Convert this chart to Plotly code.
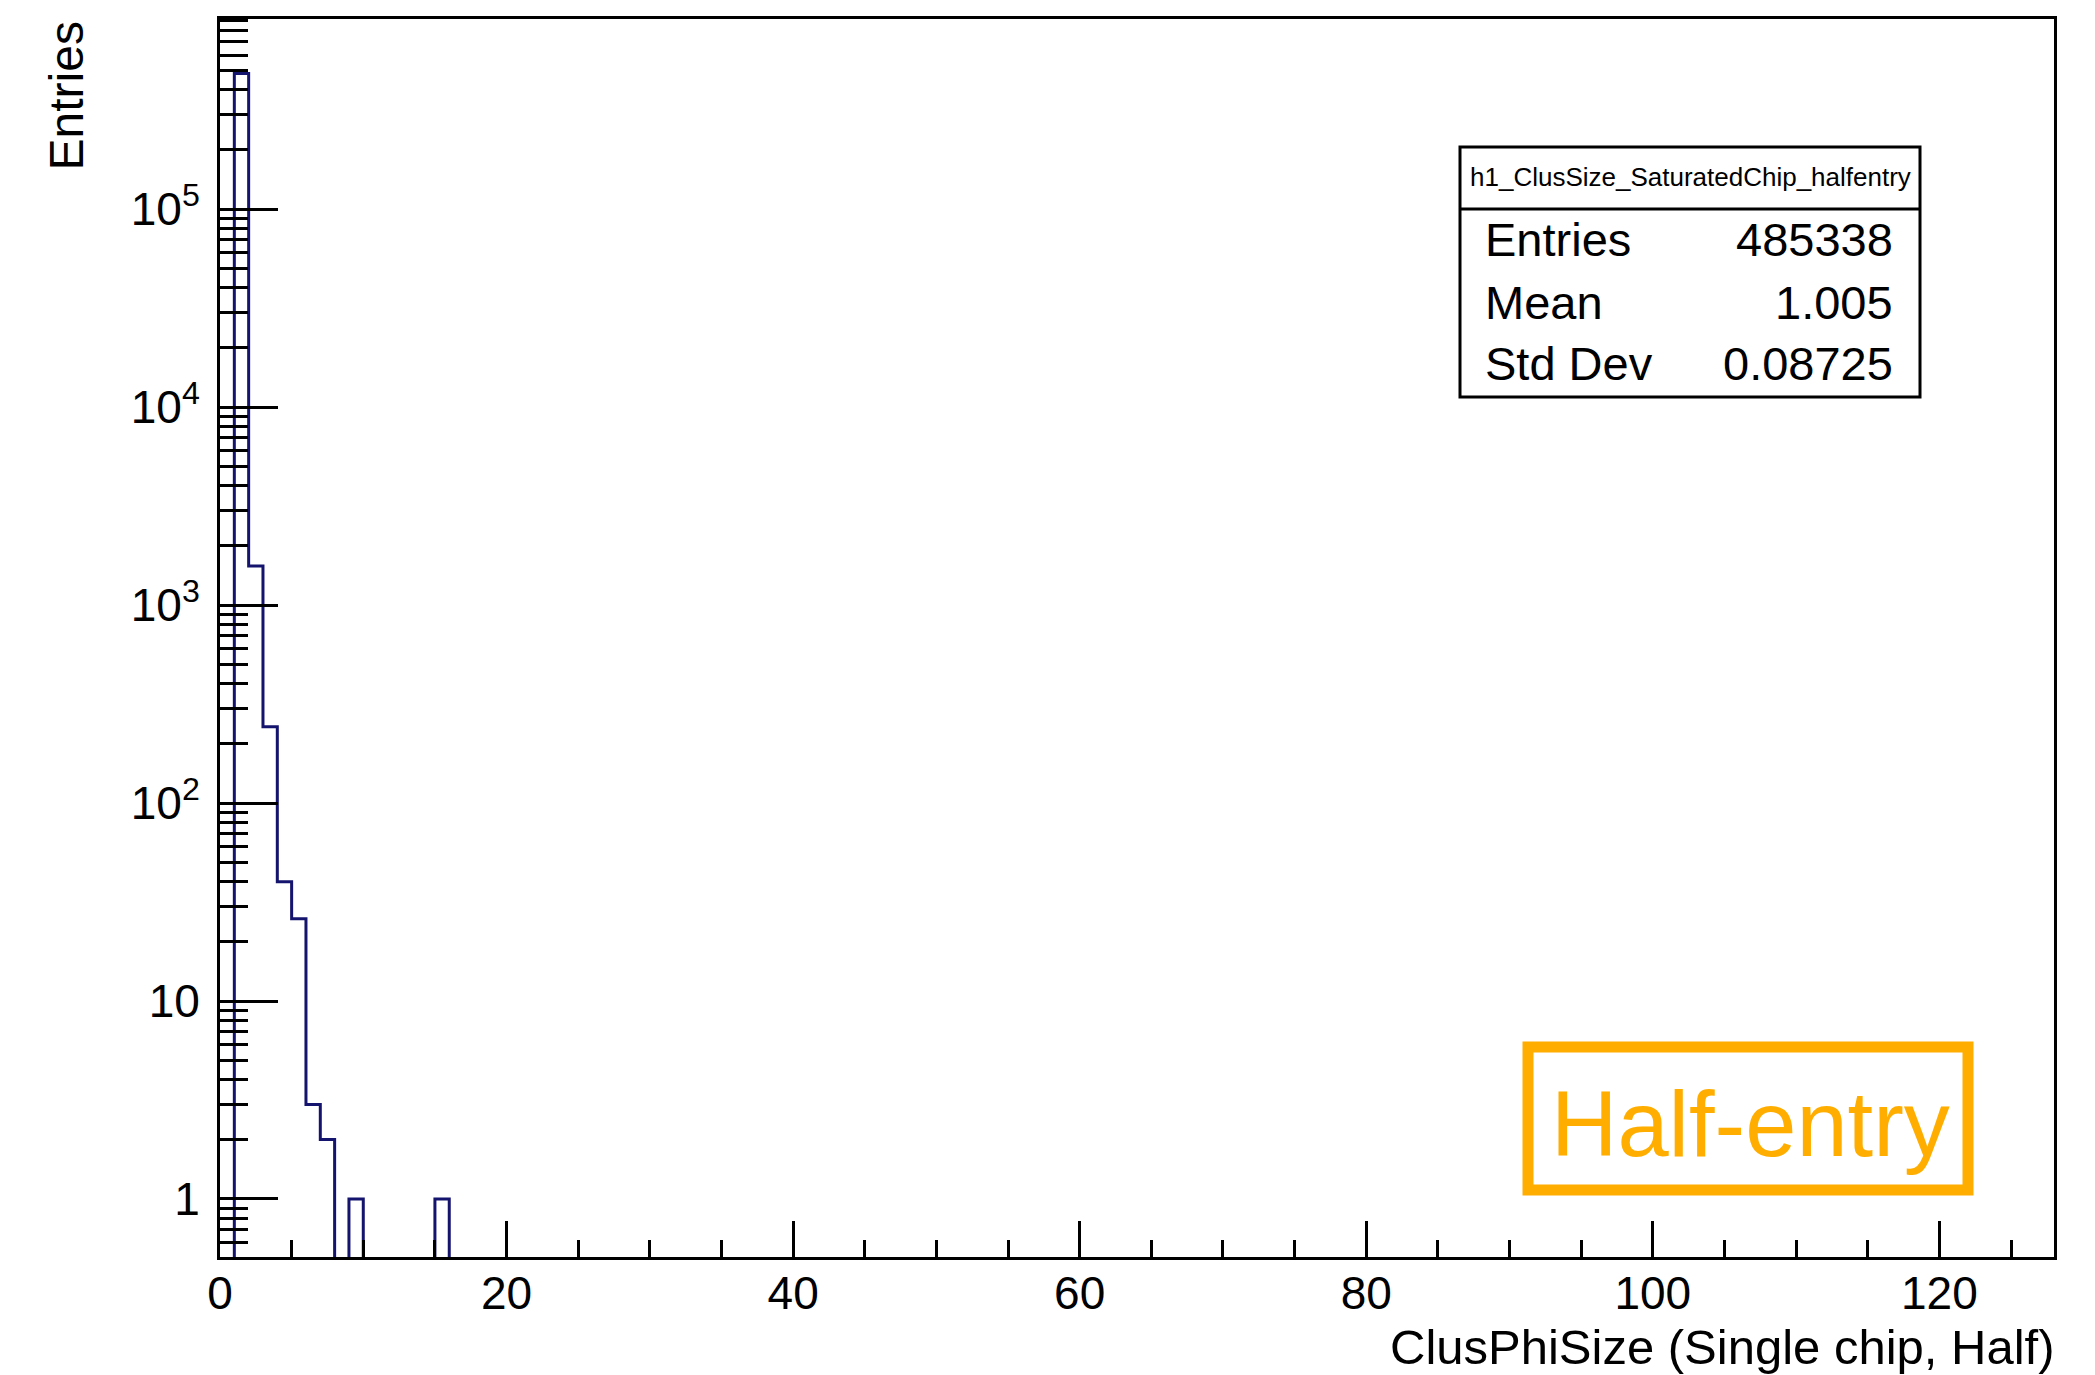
import plotly.graph_objects as go
import numpy as np

# ---------------- data ----------------
x_min, x_max, n_bins = 0, 128, 128
clus_size = [1, 2, 3, 4, 5, 6, 7, 9, 15]
entries = [483447, 1575, 243, 40, 26, 3, 2, 1, 1]

y_tick_vals = [1, 10, 100, 1000, 10000, 100000]
y_tick_text = ["1", "10", "10<sup>2</sup>", "10<sup>3</sup>", "10<sup>4</sup>", "10<sup>5</sup>"]
x_tick_vals = [0, 20, 40, 60, 80, 100, 120]

stat_title = "h1_ClusSize_SaturatedChip_halfentry"
stat_names = ["Entries", "Mean", "Std Dev"]
stat_values = ["485338", "1.005", "0.08725"]

x_title = "ClusPhiSize (Single chip, Half)"
y_title = "Entries"
tag_text = "Half-entry"

# ---------------- build histogram steps ----------------
edges = np.linspace(x_min, x_max, n_bins + 1)
counts = np.zeros(n_bins)
for s, c in zip(clus_size, entries):
    counts[int(s - x_min)] = c
floor = 1e-3  # zero bins drawn below the visible range (as ROOT does)
yplot = np.where(counts > 0, counts, floor)
step_y = list(yplot) + [yplot[-1]]

W, H = 2095, 1375
L, R, T, B = 220, 2054, 19, 1257
FONT = "Liberation Sans, Arial, Helvetica, sans-serif"


def px(xp):
    return (xp - L) / (R - L)


def py(yp):
    return (B - yp) / (B - T)


fig = go.Figure()
fig.add_trace(go.Scatter(
    x=edges, y=step_y, mode="lines",
    line=dict(color="#14146e", width=3, shape="hv"),
    hoverinfo="skip", showlegend=False,
))

minor_vals = [k * 10 ** d for d in range(-1, 6) for k in range(2, 10)]

fig.update_layout(
    width=W, height=H,
    margin=dict(l=L, r=W - R, t=T, b=H - B),
    paper_bgcolor="white", plot_bgcolor="white",
    font=dict(family=FONT, color="black", size=46),
    showlegend=False,
)
fig.update_xaxes(
    range=[x_min, x_max], showgrid=False, zeroline=False,
    showline=True, linecolor="black", linewidth=3, mirror=True,
    ticks="inside", ticklen=36, tickwidth=2.5, tickcolor="black",
    tickvals=x_tick_vals, tickfont=dict(size=46, family=FONT),
    ticklabelstandoff=-6,
    minor=dict(ticks="inside", ticklen=17, tickwidth=2.5, tickcolor="black",
               dtick=5, tick0=0, showgrid=False),
)
fig.update_yaxes(
    type="log", range=[-0.293, 5.96], showgrid=False, zeroline=False,
    showline=True, linecolor="black", linewidth=3, mirror=True,
    ticks="inside", ticklen=58, tickwidth=2.5, tickcolor="black",
    tickmode="array", tickvals=y_tick_vals, ticktext=y_tick_text,
    tickfont=dict(size=46, family=FONT), ticklabelstandoff=8,
    minor=dict(ticks="inside", ticklen=28, tickwidth=2.5, tickcolor="black",
               tickmode="array", tickvals=minor_vals, showgrid=False),
)

shapes = []
annotations = []

# axis titles
annotations.append(dict(xref="paper", yref="paper", x=px(66), y=py(20),
                        xanchor="center", yanchor="top", text=y_title, textangle=-90,
                        showarrow=False, font=dict(size=48, family=FONT)))
annotations.append(dict(xref="paper", yref="paper", x=px(2057), y=py(1347),
                        xanchor="right", yanchor="middle", text=x_title,
                        showarrow=False, font=dict(size=49, family=FONT)))

# stats box
bx0, bx1, by0, by1, bdiv = 1460, 1920, 147, 397, 209
shapes.append(dict(type="rect", xref="paper", yref="paper",
                   x0=px(bx0), x1=px(bx1), y0=py(by1), y1=py(by0),
                   line=dict(color="black", width=3), fillcolor="white", layer="above"))
shapes.append(dict(type="line", xref="paper", yref="paper",
                   x0=px(bx0), x1=px(bx1), y0=py(bdiv), y1=py(bdiv),
                   line=dict(color="black", width=3), layer="above"))
annotations.append(dict(xref="paper", yref="paper", x=px((bx0 + bx1) / 2), y=py(177),
                        xanchor="center", yanchor="middle", text=stat_title,
                        showarrow=False, font=dict(size=26, family=FONT)))
row_y = [240, 302, 363]
for name, val, yy in zip(stat_names, stat_values, row_y):
    annotations.append(dict(xref="paper", yref="paper", x=px(1483), y=py(yy),
                            xanchor="left", yanchor="middle", text=name,
                            showarrow=False, font=dict(size=47, family=FONT)))
    annotations.append(dict(xref="paper", yref="paper", x=px(1895), y=py(yy),
                            xanchor="right", yanchor="middle", text=val,
                            showarrow=False, font=dict(size=47, family=FONT)))

# Half-entry tag
ORANGE = "#FFAE00"
shapes.append(dict(type="rect", xref="paper", yref="paper",
                   x0=px(1528), x1=px(1968), y0=py(1190), y1=py(1047),
                   line=dict(color=ORANGE, width=11), fillcolor="rgba(0,0,0,0)", layer="above"))
annotations.append(dict(xref="paper", yref="paper", x=px(1750), y=py(1124),
                        xanchor="center", yanchor="middle", text=tag_text,
                        showarrow=False, font=dict(size=92, family=FONT, color=ORANGE)))

fig.update_layout(shapes=shapes, annotations=annotations)
fig.write_html("out.html")
